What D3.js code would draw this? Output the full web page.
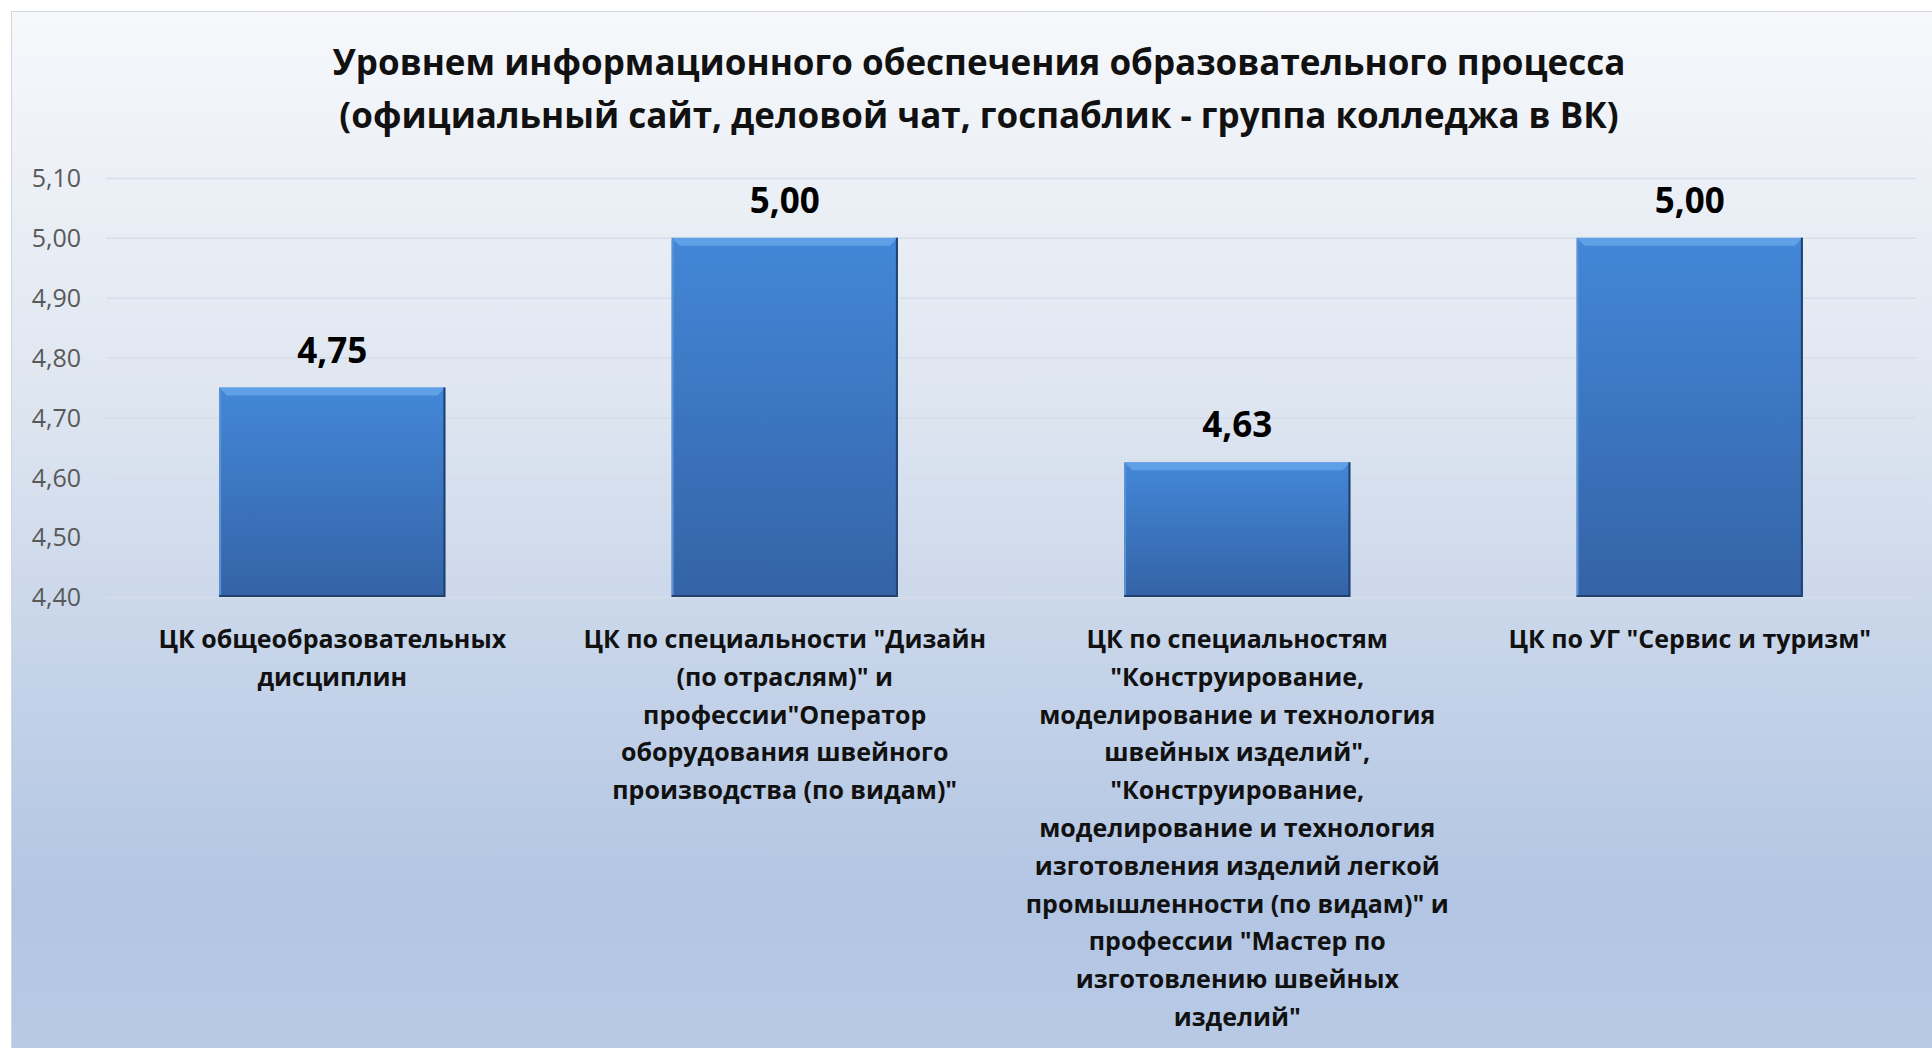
<!DOCTYPE html>
<html lang="ru">
<head>
<meta charset="utf-8">
<title>Уровнем информационного обеспечения</title>
<script src="https://d3js.org/d3.v7.min.js"></script>
<style>
  html, body { margin: 0; padding: 0; background: #fff; }
  svg { display: block; }
  text { font-family: 'Open Sans', 'Noto Sans', sans-serif; }
</style>
</head>
<body>
<svg id="chart" width="1932" height="1048"></svg>
<script>
// data
var titleLines = [
  "Уровнем информационного обеспечения образовательного процесса",
  "(официальный сайт, деловой чат, госпаблик - группа колледжа в ВК)"
];
var categories = [
  ["ЦК общеобразовательных", "дисциплин"],
  ["ЦК по специальности \"Дизайн", "(по отраслям)\" и", "профессии\"Оператор",
   "оборудования швейного", "производства (по видам)\""],
  ["ЦК по специальностям", "\"Конструирование,", "моделирование и технология",
   "швейных изделий\",", "\"Конструирование,", "моделирование и технология",
   "изготовления изделий легкой", "промышленности (по видам)\" и",
   "профессии \"Мастер по", "изготовлению швейных", "изделий\""],
  ["ЦК по УГ \"Сервис и туризм\""]
];
var values = [4.75, 5.00, 4.625, 5.00];
var yTicks = [4.40, 4.50, 4.60, 4.70, 4.80, 4.90, 5.00, 5.10];

var svg = d3.select("#chart");
var W = 1932, H = 1048;

var defs = svg.append("defs");
var bg = defs.append("linearGradient").attr("id", "bg")
  .attr("x1", 0).attr("y1", 0).attr("x2", 0).attr("y2", 1);
bg.append("stop").attr("offset", "0%").attr("stop-color", "#f6f8fb");
bg.append("stop").attr("offset", "35%").attr("stop-color", "#e0e7f1");
bg.append("stop").attr("offset", "62%").attr("stop-color", "#c6d4e9");
bg.append("stop").attr("offset", "85%").attr("stop-color", "#b2c5e3");
bg.append("stop").attr("offset", "100%").attr("stop-color", "#b8cae5");

var barGrad = defs.append("linearGradient").attr("id", "bar")
  .attr("x1", 0).attr("y1", 0).attr("x2", 0).attr("y2", 1);
barGrad.append("stop").attr("offset", "0%").attr("stop-color", "#4387d8");
barGrad.append("stop").attr("offset", "100%").attr("stop-color", "#3463a6");

// chart area
svg.append("rect")
  .attr("x", 11.5).attr("y", 11.5).attr("width", W).attr("height", H)
  .attr("fill", "url(#bg)").attr("stroke", "#d4d7dc");

var x = d3.scaleBand()
  .domain(d3.range(categories.length))
  .range([106, 1916])
  .paddingInner(0.5).paddingOuter(0.25);

var y = d3.scaleLinear().domain([4.4, 5.1]).range([597, 178]);

// gridlines + tick labels
var yAxis = d3.axisLeft(y)
  .tickValues(yTicks)
  .tickSize(-(1916 - 106))
  .tickPadding(25)
  .tickFormat(function (d) { return d3.format(".2f")(d).replace(".", ","); });

var ga = svg.append("g").attr("transform", "translate(106,0)").call(yAxis);
ga.select(".domain").remove();
ga.selectAll(".tick line").attr("stroke", "#d6dde8").attr("stroke-width", 1.5);
ga.selectAll(".tick text")
  .attr("fill", "#595959")
  .style("font-size", "25px")
  .attr("dy", "0.35em");

// bars
var bars = svg.append("g").selectAll("g").data(values).join("g");
var bw = x.bandwidth();

bars.append("rect")
  .attr("x", function (d, i) { return x(i); })
  .attr("y", function (d) { return y(d); })
  .attr("width", bw)
  .attr("height", function (d) { return y(4.4) - y(d); })
  .attr("fill", "url(#bar)");

// top bevel highlight
bars.append("path")
  .attr("d", function (d, i) {
    var x0 = x(i), x1 = x(i) + bw, t = y(d), b = 8;
    return "M" + x0 + "," + t + "L" + x1 + "," + t +
      "L" + (x1 - b) + "," + (t + b) + "L" + (x0 + b) + "," + (t + b) + "Z";
  })
  .attr("fill", "#6aa8ec").attr("opacity", 0.75);

// dark right & bottom edge
bars.append("path")
  .attr("d", function (d, i) {
    var x1 = x(i) + bw, t = y(d), b = y(4.4);
    return "M" + (x1 - 1) + "," + t + "L" + (x1 - 1) + "," + (b - 1) + "L" + x(i) + "," + (b - 1);
  })
  .attr("fill", "none").attr("stroke", "#21426f").attr("stroke-width", 2);

// left light edge
bars.append("line")
  .attr("x1", function (d, i) { return x(i) + 1; })
  .attr("x2", function (d, i) { return x(i) + 1; })
  .attr("y1", function (d) { return y(d) + 2; })
  .attr("y2", y(4.4) - 2)
  .attr("stroke", "#5a92d6").attr("stroke-width", 2);

// value labels
bars.append("text")
  .attr("x", function (d, i) { return x(i) + bw / 2; })
  .attr("y", function (d) { return y(d) - 25; })
  .attr("text-anchor", "middle")
  .attr("fill", "#000")
  .style("font-size", "35px").style("font-weight", "bold")
  .text(function (d) { return d.toFixed(2).replace(".", ","); });

// category labels
var cat = svg.append("g").selectAll("text").data(categories).join("text")
  .attr("text-anchor", "middle")
  .attr("fill", "#111")
  .style("font-size", "25px").style("font-weight", "bold");
cat.each(function (lines, i) {
  d3.select(this).selectAll("tspan").data(lines).join("tspan")
    .attr("x", x(i) + bw / 2)
    .attr("y", function (l, j) { return 648 + j * 37.8; })
    .text(function (l) { return l; });
});

// title
svg.append("g").selectAll("text").data(titleLines).join("text")
  .attr("x", 979)
  .attr("y", function (d, i) { return 75 + i * 53; })
  .attr("text-anchor", "middle")
  .attr("fill", "#111")
  .style("font-size", "35px").style("font-weight", "bold")
  .text(function (d) { return d; });
</script>
</body>
</html>
